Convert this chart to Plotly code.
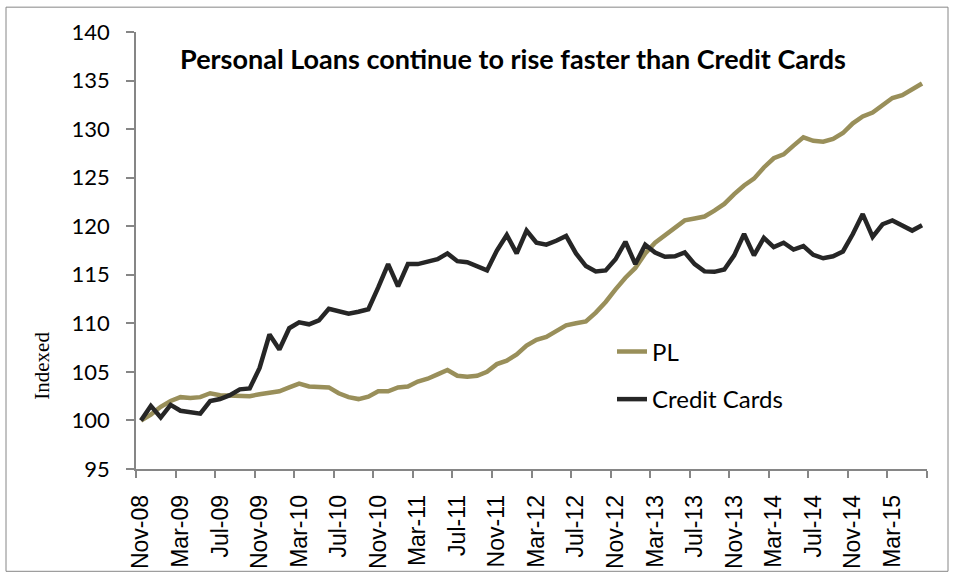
import plotly.graph_objects as go
import pandas as pd

# ---- data ----
MONTHS = [d.strftime("%b-%y") for d in pd.date_range("2008-11-01", periods=80, freq="MS")]

PL = [100.0, 100.6, 101.4, 102.0, 102.4, 102.3, 102.4, 102.8, 102.6, 102.6,
      102.5, 102.5, 102.7, 102.9, 103.0, 103.4, 103.8, 103.5, 103.5, 103.4,
      102.8, 102.4, 102.2, 102.45, 103.0, 103.0, 103.4, 103.5, 104.0, 104.3,
      104.75, 105.2, 104.6, 104.5, 104.6, 105.0, 105.8, 106.15, 106.8, 107.7,
      108.3, 108.6, 109.2, 109.8, 110.0, 110.2, 111.1, 112.2, 113.5, 114.7,
      115.7, 117.2, 118.3, 119.1, 119.8, 120.6, 120.8, 121.0, 121.6, 122.3,
      123.3, 124.2, 124.9, 126.05, 127.0, 127.4, 128.3, 129.15, 128.8, 128.7,
      129.0, 129.6, 130.6, 131.3, 131.7, 132.4, 133.2, 133.5, 134.15, 134.7]

CREDIT_CARDS = [100.0, 101.5, 100.3, 101.6, 101.0, 100.8, 100.7, 102.0, 102.2, 102.6,
                103.2, 103.3, 105.4, 108.85, 107.3, 109.5, 110.1, 109.9, 110.3, 111.5,
                111.2, 111.0, 111.2, 111.45, 113.7, 116.1, 113.8, 116.1, 116.1, 116.4,
                116.6, 117.2, 116.4, 116.3, 115.9, 115.45, 117.5, 119.1, 117.2, 119.55,
                118.3, 118.1, 118.5, 119.0, 117.2, 115.9, 115.35, 115.45, 116.6, 118.4,
                116.1, 118.1, 117.3, 116.85, 116.9, 117.3, 116.1, 115.35, 115.3, 115.55,
                117.0, 119.2, 117.0, 118.8, 117.85, 118.3, 117.6, 117.95, 117.05, 116.7,
                116.9, 117.4, 119.2, 121.25, 118.9, 120.2, 120.6, 120.1, 119.55, 120.1]

TICK_LABELS = MONTHS[::4]
Y_TICKS = list(range(95, 141, 5))

TITLE = "Personal Loans continue to rise faster than Credit Cards"

# ---- figure ----
idx = list(range(len(MONTHS)))
PL_COLOR = "#998F5A"
CC_COLOR = "#262626"
AXIS_COLOR = "#868686"

fig = go.Figure()
fig.add_trace(go.Scatter(x=idx, y=PL, mode="lines", name="PL", showlegend=True,
                         line=dict(color=PL_COLOR, width=4.5), legend="legend",
                         text=MONTHS, hovertemplate="%{text}: %{y}<extra>PL</extra>"))
fig.add_trace(go.Scatter(x=idx, y=CREDIT_CARDS, mode="lines", name="Credit Cards", showlegend=True,
                         line=dict(color=CC_COLOR, width=4.5), legend="legend2",
                         text=MONTHS, hovertemplate="%{text}: %{y}<extra>Credit Cards</extra>"))

legend_font = dict(family="Lato, Calibri, sans-serif", size=24, color="#000000")
LEG_X = (612 - 136) / 791

fig.update_layout(
    width=954, height=581,
    showlegend=True,
    margin=dict(l=136, r=27, t=32, b=109),
    paper_bgcolor="white", plot_bgcolor="white",
    title=dict(text="<b>" + TITLE + "</b>", x=0.4766, xref="paper", xanchor="center",
               y=1 - 60 / 581, yref="container", yanchor="middle",
               font=dict(family="Lato, Calibri, sans-serif", size=27, color="#000000")),
    legend=dict(x=LEG_X, y=0.268, xanchor="left", yanchor="middle", visible=True,
                bgcolor="rgba(0,0,0,0)", font=legend_font, itemwidth=30),
    legend2=dict(x=LEG_X, y=0.159, xanchor="left", yanchor="middle", visible=True,
                 bgcolor="rgba(0,0,0,0)", font=legend_font, itemwidth=30),
    xaxis=dict(
        range=[-0.5, len(MONTHS) - 0.5],
        tickmode="array", tickvals=idx[::4], ticktext=TICK_LABELS,
        tickangle=-90, ticks="outside", ticklen=7, tickcolor="rgba(0,0,0,0)",
        ticklabelstandoff=8,
        tickfont=dict(family="Liberation Sans, Arial, sans-serif", size=23, color="#000000"),
        showline=True, linecolor=AXIS_COLOR, linewidth=1.5,
        showgrid=False, zeroline=False,
        minor=dict(tickmode="array", tickvals=[i - 0.5 for i in range(0, len(MONTHS) + 1, 4)],
                   ticks="outside", ticklen=7, tickcolor=AXIS_COLOR, tickwidth=1.5,
                   showgrid=False),
    ),
    yaxis=dict(
        range=[95, 140], tickmode="array", tickvals=Y_TICKS,
        ticks="outside", ticklen=8, tickcolor=AXIS_COLOR, tickwidth=1.5,
        ticklabelstandoff=12,
        tickfont=dict(family="Lato, Calibri, sans-serif", size=22, color="#000000"),
        showline=True, linecolor=AXIS_COLOR, linewidth=1.5,
        showgrid=False, zeroline=False,
    ),
    annotations=[dict(text="Indexed", xref="paper", yref="paper",
                      x=(42 - 136) / 791, y=(472 - 368) / 440,
                      xanchor="center", yanchor="middle", textangle=-90, showarrow=False,
                      font=dict(family="Liberation Serif, Times New Roman, serif", size=21,
                                color="#000000"))],
    shapes=[dict(type="rect", xref="paper", yref="paper",
                 x0=(6 - 136) / 791, x1=(948 - 136) / 791,
                 y0=(472 - 575) / 440, y1=(472 - 7) / 440,
                 line=dict(color=AXIS_COLOR, width=1), fillcolor="rgba(0,0,0,0)",
                 layer="below")],
)

fig.write_html("out.html")
